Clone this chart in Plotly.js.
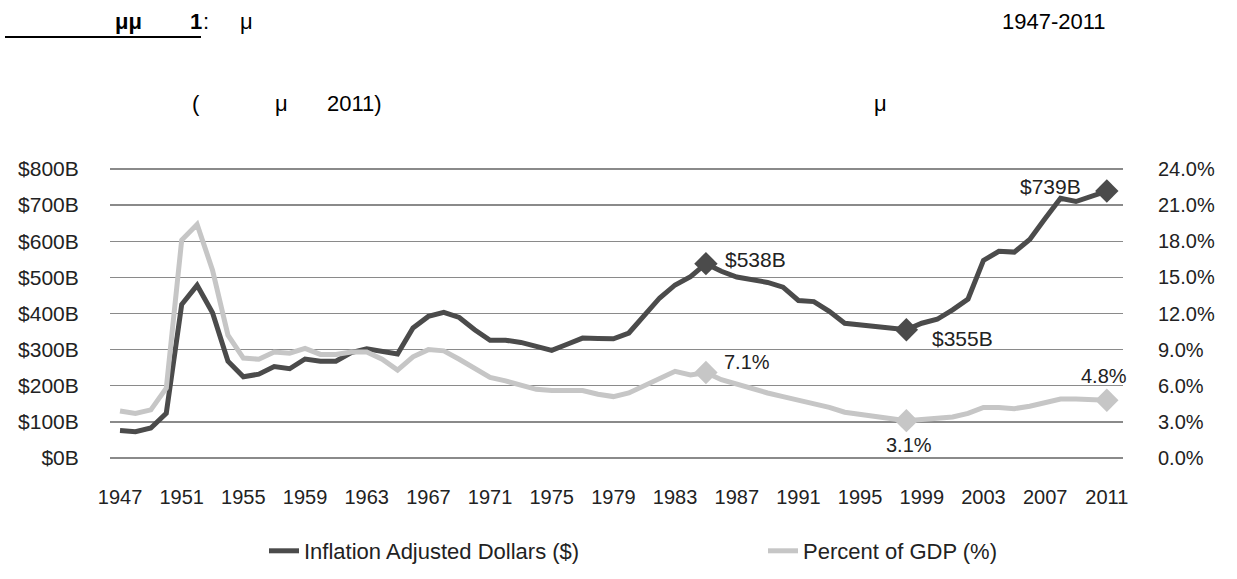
<!DOCTYPE html>
<html>
<head>
<meta charset="utf-8">
<script src="https://cdn.plot.ly/plotly-3.0.1.min.js"></script>
<style>html,body{margin:0;padding:0;background:#fff;}#chart{width:1237px;height:579px;}</style>
</head>
<body>
<div id="chart"></div>
<script>
const years = [1947,1948,1949,1950,1951,1952,1953,1954,1955,1956,1957,1958,1959,1960,1961,1962,1963,1964,1965,1966,1967,1968,1969,1970,1971,1972,1973,1974,1975,1976,1977,1978,1979,1980,1981,1982,1983,1984,1985,1986,1987,1988,1989,1990,1991,1992,1993,1994,1995,1996,1997,1998,1999,2000,2001,2002,2003,2004,2005,2006,2007,2008,2009,2010,2011];
const dollarsB = [76,73,83,124,425,478,402,268,225,232,253,247,274,268,268,292,302,296,288,360,392,403,389,355,326,326,320,309,298,315,332,331,330,346,394,443,479,502,538,517,501,492,486,473,436,433,406,373,369,362,359,355,373,384,410,440,547,572,570,605,663,719,710,725,739];
const pctGDP = [3.9,3.7,4.0,5.8,18.1,19.4,15.6,10.2,8.3,8.2,8.8,8.7,9.1,8.6,8.6,8.8,8.8,8.2,7.3,8.4,9.0,8.9,8.2,7.4,6.7,6.4,6.0,5.7,5.6,5.6,5.6,5.3,5.1,5.4,6.0,6.7,7.2,6.9,7.1,6.5,6.1,5.7,5.4,5.1,4.8,4.6,4.2,3.8,3.6,3.5,3.3,3.1,3.2,3.3,3.4,3.7,4.2,4.2,4.1,4.3,4.6,4.9,4.9,4.9,4.8];
const highlightYears = [1985, 1998, 2011];
const dollarLabels = ['$538B', '$355B', '$739B'];
const pctLabels = ['7.1%', '3.1%', '4.8%'];
const seriesNames = ['Inflation Adjusted Dollars ($)', 'Percent of GDP (%)'];
const leftTicks = [0,100,200,300,400,500,600,700,800];
const rightTicks = [0,3,6,9,12,15,18,21,24];

const DARK = '#4b4b4b', LIGHT = '#c6c6c6', GRID = '#8a8a8a';
const M = {l:110, r:114, t:168, b:120};
const W = 1237, H = 579;
const PW = W - M.l - M.r, PH = H - M.t - M.b;
const px = v => (v - M.l) / PW;
const py = v => (H - M.b - v) / PH;
const PAD = 2.8;

const hiD = highlightYears.map(y => dollarsB[years.indexOf(y)]);
const hiP = highlightYears.map(y => pctGDP[years.indexOf(y)]);

const traces = [
  {x: years, y: dollarsB, name: seriesNames[0], type: 'scatter', mode: 'lines',
   line: {color: DARK, width: 5}, yaxis: 'y', legend: 'legend'},
  {x: years, y: pctGDP, name: seriesNames[1], type: 'scatter', mode: 'lines',
   line: {color: LIGHT, width: 5}, yaxis: 'y2', legend: 'legend2'},
  {x: highlightYears, y: hiD, type: 'scatter', mode: 'markers', showlegend: false,
   marker: {symbol: 'diamond', size: 18, color: DARK}, yaxis: 'y'},
  {x: highlightYears, y: hiP, type: 'scatter', mode: 'markers', showlegend: false,
   marker: {symbol: 'diamond', size: 18, color: LIGHT}, yaxis: 'y2'}
];

const FAM = 'Liberation Sans, Arial, sans-serif';
const dFont = {family: FAM, size: 21, color: '#222'};
const pFont = {family: FAM, size: 20, color: '#222'};
const dShift = [{xa:'left', xs:17, ys:4}, {xa:'left', xs:24, ys:-9}, {xa:'right', xs:-24, ys:5}];
const pShift = [{xa:'left', xs:16, ys:11}, {xa:'center', xs:3, ys:-24}, {xa:'center', xs:-3, ys:24}];
const annotations = [];
highlightYears.forEach((yr, i) => {
  annotations.push({x: yr, y: hiD[i], xref: 'x', yref: 'y', text: dollarLabels[i], showarrow: false,
    xanchor: dShift[i].xa, yanchor: 'middle', xshift: dShift[i].xs, yshift: dShift[i].ys, font: dFont});
  annotations.push({x: yr, y: hiP[i], xref: 'x', yref: 'y2', text: pctLabels[i], showarrow: false,
    xanchor: pShift[i].xa, yanchor: 'middle', xshift: pShift[i].xs, yshift: pShift[i].ys, font: pFont});
});

const tFont = {family: FAM, size: 22, color: '#000'};
const titleBits = [
  {t: '<b>μμ</b>', x: 113, y: 21},
  {t: '<b>1</b>', x: 188, y: 21},
  {t: ':', x: 201, y: 21},
  {t: 'μ', x: 238, y: 21},
  {t: '1947-2011', x: 1000, y: 21},
  {t: '(', x: 190, y: 104},
  {t: 'μ', x: 273, y: 104},
  {t: '2011)', x: 325, y: 104},
  {t: 'μ', x: 872, y: 104}
];
titleBits.forEach(b => annotations.push({x: px(b.x), y: py(b.y), xref: 'paper', yref: 'paper',
  text: b.t, showarrow: false, xanchor: 'left', yanchor: 'middle', font: tFont}));

const shapes = [
  {type: 'line', xref: 'paper', yref: 'paper', x0: px(5), x1: px(201), y0: py(37), y1: py(37),
   line: {color: '#000', width: 2}},
  {type: 'line', xref: 'paper', yref: 'y', x0: 0, x1: 1, y0: leftTicks[0], y1: leftTicks[0],
   line: {color: GRID, width: 1.5}, layer: 'below'},
  {type: 'line', xref: 'paper', yref: 'y', x0: 0, x1: 1, y0: leftTicks[leftTicks.length - 1], y1: leftTicks[leftTicks.length - 1],
   line: {color: GRID, width: 1.5}, layer: 'below'}
];

const tickFont = {family: FAM, size: 20, color: '#222'};
const legFont = {family: FAM, size: 22, color: '#222'};
const layout = {
  width: W, height: H, margin: M, paper_bgcolor: '#fff', plot_bgcolor: '#fff',
  showlegend: true,
  xaxis: {range: [1946.35, 2012.05], tick0: 1947, dtick: 4, showgrid: false, zeroline: false,
    showline: false, ticks: 'outside', ticklen: 20, tickcolor: 'rgba(0,0,0,0)', tickfont: tickFont,
    automargin: false},
  yaxis: {range: [-PAD, 800 + PAD], tickvals: leftTicks, ticktext: leftTicks.map(v => '$' + v + 'B'),
    showgrid: true, gridcolor: GRID, gridwidth: 1.5, zeroline: false, showline: false,
    ticks: 'outside', ticklen: 26, tickcolor: 'rgba(0,0,0,0)', tickfont: {family: FAM, size: 21, color: '#222'},
    automargin: false},
  yaxis2: {range: [-PAD * 0.03, 24 + PAD * 0.03], tickvals: rightTicks, ticktext: rightTicks.map(v => v.toFixed(1) + '%'),
    overlaying: 'y', side: 'right', showgrid: false, zeroline: false, showline: false,
    ticks: 'outside', ticklen: 30, tickcolor: 'rgba(0,0,0,0)', tickfont: tickFont, automargin: false},
  legend: {orientation: 'h', xref: 'container', yref: 'container', x: 264 / W, y: 1 - 551 / H,
    xanchor: 'left', yanchor: 'middle', font: legFont, bgcolor: 'rgba(0,0,0,0)'},
  legend2: {orientation: 'h', xref: 'container', yref: 'container', x: 763 / W, y: 1 - 551 / H,
    xanchor: 'left', yanchor: 'middle', font: legFont, bgcolor: 'rgba(0,0,0,0)'},
  annotations: annotations, shapes: shapes
};

Plotly.newPlot('chart', traces, layout, {displayModeBar: false, staticPlot: true});
</script>
</body>
</html>
